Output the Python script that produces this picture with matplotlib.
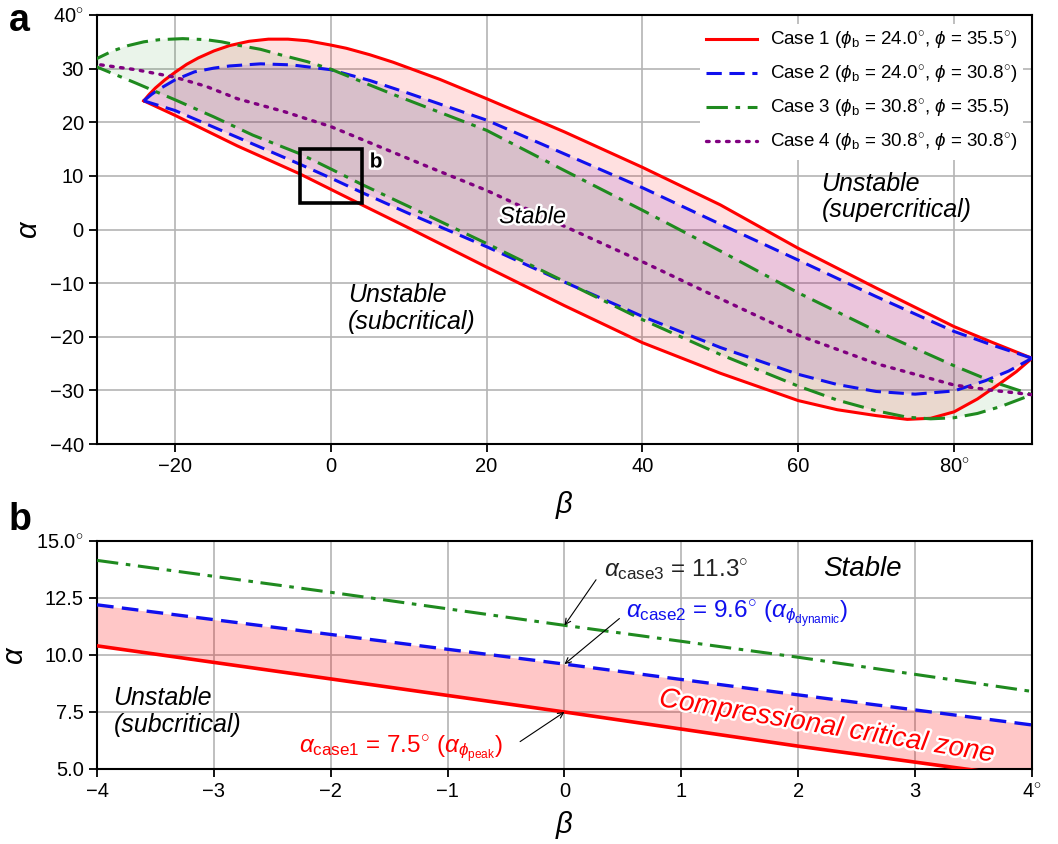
import numpy as np
import matplotlib
matplotlib.use("Agg")
import matplotlib.pyplot as plt
import matplotlib.patheffects as pe
from matplotlib.patches import Rectangle

plt.rcParams.update({
    "font.family": "Liberation Sans",
    "mathtext.fontset": "custom",
    "mathtext.rm": "Liberation Sans",
    "mathtext.it": "Liberation Sans:italic",
    "mathtext.bf": "Liberation Sans:bold",
    "axes.linewidth": 1.5,
    "xtick.major.width": 1.3,
    "ytick.major.width": 1.3,
    "xtick.major.size": 6,
    "ytick.major.size": 6,
    "xtick.labelsize": 14.5,
    "ytick.labelsize": 14.5,
})

RED, BLUE, GREEN, PURPLE = "#ff0000", "#1010ee", "#1f8a1f", "#800080"
HALO = [pe.withStroke(linewidth=3.5, foreground="white")]

# ─── PANEL a: critical taper envelopes ──────────────────────────────────────
# case 1: phi_b = 24.0, phi = 35.5
case1_up_beta  = [-24, -23.3, -22.5, -21.3, -20, -18.5, -17, -15, -13, -10.5, -8, -5.5, -3, 0,
                  2, 5, 8, 14, 20, 30, 40, 50, 60, 70, 80, 85, 90]
case1_up_alpha = [24, 25.2, 26.4, 27.9, 29.3, 30.8, 32.0, 33.3, 34.3, 35.1, 35.5, 35.5, 35.2, 34.4,
                  33.8, 32.6, 31.2, 28.0, 24.4, 18.2, 11.6, 4.6, -3.5, -10.9, -18.1, -21.1, -24]
case1_lo_beta  = [-24, -20, -12, -4, 0, 4, 10, 20, 30, 40, 50, 60, 65, 70, 74, 77, 80, 83, 86, 88, 90]
case1_lo_alpha = [24, 21.3, 15.6, 10.4, 7.5, 4.6, 0.3, -7.0, -14.2, -21.1, -26.8, -31.9, -33.6,
                  -34.7, -35.4, -35.2, -34.0, -31.6, -28.6, -26.5, -24]

# case 2: phi_b = 24.0, phi = 30.8
case2_up_beta  = [-24, -23, -22, -20, -17.5, -15, -13, -9, -5, 0, 5, 10, 20, 30, 40, 50, 60, 70,
                  80, 85, 90]
case2_up_alpha = [24, 25.2, 26.2, 27.9, 29.4, 30.1, 30.5, 30.9, 30.7, 29.8, 27.8, 25.4, 20.4, 14.1,
                  7.8, 1.0, -5.7, -12.5, -19.0, -21.6, -24]
case2_lo_beta  = [-24, -20, -12, -4, 0, 4, 10, 20, 30, 40, 50, 60, 65, 70, 75, 80, 84, 87, 90]
case2_lo_alpha = [24, 22.2, 17.2, 12.2, 9.6, 6.9, 3.0, -3.2, -9.8, -16.2, -22.0, -27.0, -28.9,
                  -30.2, -30.7, -30.1, -28.2, -26.4, -24]

# case 3: phi_b = 30.8, phi = 35.5
case3_up_beta  = [-30.8, -30, -28, -26, -24, -22, -19, -16, -14, -12, -9, -6.5, -3, 0, 8, 20, 30,
                  40, 50, 60, 70, 80, 85, 90]
case3_up_alpha = [30.8, 31.9, 33.3, 34.3, 35.0, 35.4, 35.6, 35.4, 35.0, 34.4, 33.6, 32.6, 31.3,
                  29.9, 25.2, 18.5, 11.0, 3.6, -4.0, -11.8, -18.9, -25.4, -28.4, -30.8]
case3_lo_beta  = [-30.8, -30, -25, -20, -15, -10, -4, 0, 4, 10, 20, 30, 40, 50, 60, 65, 70, 74, 77,
                  80, 83, 86, 90]
case3_lo_alpha = [30.8, 30.3, 27.3, 24.2, 21.0, 17.6, 14.15, 11.3, 8.4, 4.3, -2.6, -9.7, -16.8,
                  -23.3, -29.2, -31.8, -33.8, -35.0, -35.3, -35.1, -34.3, -33.0, -30.8]

# case 4: phi_b = phi = 30.8 (single curve)
case4_beta  = [-30.8, -30, -25, -20, -16, -12, -6, 0, 6, 12, 20, 30, 40, 50, 60, 70, 80, 85, 90]
case4_alpha = [31.0, 30.8, 29.8, 28.4, 26.7, 24.4, 22.0, 19.2, 15.6, 12.0, 7.3, 0.6, -6.0, -12.9,
               -19.7, -25.0, -29.0, -30.0, -30.8]

# ─── PANEL b: zoom around beta = 0 ─────────────────────────────────────────
b_beta  = [-4, -2, 0, 2, 4]
b_case1 = [10.4, 8.95, 7.5, 6.0, 4.6]
b_case2 = [12.2, 10.9, 9.6, 8.25, 6.93]
b_case3 = [14.15, 12.75, 11.3, 9.9, 8.4]

a_ticks_x = [-20, 0, 20, 40, 60, 80]
a_ticks_y = [-40, -30, -20, -10, 0, 10, 20, 30, 40]
b_ticks_x = [-4, -3, -2, -1, 0, 1, 2, 3, 4]
b_ticks_y = [5.0, 7.5, 10.0, 12.5, 15.0]


def loop(up_b, up_a, lo_b, lo_a):
    return list(up_b) + list(lo_b[::-1]), list(up_a) + list(lo_a[::-1])


def style_axes(ax):
    ax.set_axisbelow(True)
    ax.grid(True, color="#b4b4b4", linewidth=1.2)
    ax.tick_params(direction="out")


def deg_labels(values, fmt="{}"):
    labels = [fmt.format(v).replace("-", "\u2212") for v in values]
    labels[-1] = labels[-1] + r"$^{\circ}$"
    return labels


fig = plt.figure(figsize=(10.58, 8.44), dpi=100)
ax = fig.add_axes([0.0917, 0.4739, 0.8837, 0.5083])
axb = fig.add_axes([0.0917, 0.0889, 0.8837, 0.2701])

# ─── panel a ────────────────────────────────────────────────────────────────
style_axes(ax)
bx, ay = loop(case1_up_beta, case1_up_alpha, case1_lo_beta, case1_lo_alpha)
ax.fill(bx, ay, color=RED, alpha=0.12, lw=0, zorder=1)
bx, ay = loop(case2_up_beta, case2_up_alpha, case2_lo_beta, case2_lo_alpha)
ax.fill(bx, ay, color="#6a10c8", alpha=0.13, lw=0, zorder=1)
bx, ay = loop(case3_up_beta, case3_up_alpha, case3_lo_beta, case3_lo_alpha)
ax.fill(bx, ay, color=GREEN, alpha=0.09, lw=0, zorder=1)

DASH = (0, (5, 2.5))
DASHDOT = (0, (7, 2.5, 1.5, 2.5))
ax.plot(case1_up_beta, case1_up_alpha, color=RED, lw=2.2, zorder=3,
        label=r"Case 1 ($\phi_\mathrm{b}$ = 24.0$^{\circ}$, $\phi$ = 35.5$^{\circ}$)")
ax.plot(case1_lo_beta, case1_lo_alpha, color=RED, lw=2.2, zorder=3)
ax.plot(case2_up_beta, case2_up_alpha, color=BLUE, lw=2.2, ls=DASH, zorder=3,
        label=r"Case 2 ($\phi_\mathrm{b}$ = 24.0$^{\circ}$, $\phi$ = 30.8$^{\circ}$)")
ax.plot(case2_lo_beta, case2_lo_alpha, color=BLUE, lw=2.2, ls=DASH, zorder=3)
ax.plot(case3_up_beta, case3_up_alpha, color=GREEN, lw=2.2, ls=DASHDOT, zorder=3,
        label=r"Case 3 ($\phi_\mathrm{b}$ = 30.8$^{\circ}$, $\phi$ = 35.5)")
ax.plot(case3_lo_beta, case3_lo_alpha, color=GREEN, lw=2.2, ls=DASHDOT, zorder=3)
ax.plot(case4_beta, case4_alpha, color=PURPLE, lw=2.4, ls=(0, (0.8, 2.2)),
        dash_capstyle="round", zorder=3,
        label=r"Case 4 ($\phi_\mathrm{b}$ = 30.8$^{\circ}$, $\phi$ = 30.8$^{\circ}$)")

ax.add_patch(Rectangle((-4, 5), 8, 10, fill=False, ec="black", lw=2.6, zorder=5))
ax.text(5, 12.6, "b", fontsize=15, fontweight="bold", ha="left", va="center",
        path_effects=HALO, zorder=6)

ax.text(25.9, 2.4, "Stable", fontsize=17, style="italic", ha="center", va="center",
        path_effects=HALO, zorder=6)
ax.text(63.0, 10.8, "Unstable\n(supercritical)", fontsize=18, style="italic",
        ha="left", va="top", linespacing=1.15, zorder=6)
ax.text(2.2, -10.0, "Unstable\n(subcritical)", fontsize=18, style="italic",
        ha="left", va="top", linespacing=1.15, zorder=6)

ax.set_xlim(-30, 90)
ax.set_ylim(-40, 40)
ax.set_xticks(a_ticks_x)
ax.set_xticklabels(deg_labels(a_ticks_x))
ax.set_yticks(a_ticks_y)
ax.set_yticklabels(deg_labels(a_ticks_y))
ax.set_xlabel(r"$\beta$", fontsize=21, labelpad=9)
ax.set_ylabel(r"$\alpha$", fontsize=21, labelpad=5)

leg = ax.legend(loc="upper right", fontsize=13.5, handlelength=2.7, handletextpad=0.7,
                labelspacing=0.62, frameon=True, fancybox=False, framealpha=1,
                borderaxespad=0.5, borderpad=0.3)
leg.get_frame().set_edgecolor("none")
leg.set_zorder(7)

# ─── panel b ────────────────────────────────────────────────────────────────
style_axes(axb)
axb.fill_between(b_beta, b_case1, b_case2, color=RED, alpha=0.22, lw=0, zorder=1)
axb.plot(b_beta, b_case3, color=GREEN, lw=2.2, ls=DASHDOT, zorder=3)
axb.plot(b_beta, b_case2, color=BLUE, lw=2.4, ls=DASH, zorder=3)
axb.plot(b_beta, b_case1, color=RED, lw=2.6, zorder=3)

arrow = dict(arrowstyle="->", lw=0.8, color="black", shrinkA=0, shrinkB=0)
axb.annotate("", xy=(0, 11.3), xytext=(0.27, 13.3), arrowprops=arrow)
axb.annotate("", xy=(0, 9.6), xytext=(0.47, 11.6), arrowprops=arrow)
axb.annotate("", xy=(0, 7.5), xytext=(-0.38, 6.2), arrowprops=arrow)

axb.text(0.34, 13.75, r"$\alpha_\mathrm{case3}$ = 11.3$^{\circ}$", fontsize=17.5,
         color="#222222", ha="left", va="center")
axb.text(0.53, 11.8, r"$\alpha_\mathrm{case2}$ = 9.6$^{\circ}$ ($\alpha_{\phi_\mathrm{dynamic}}$)",
         fontsize=17.5, color=BLUE, ha="left", va="center")
axb.text(-2.27, 5.85, r"$\alpha_\mathrm{case1}$ = 7.5$^{\circ}$ ($\alpha_{\phi_\mathrm{peak}}$)",
         fontsize=17.5, color=RED, ha="left", va="center")
axb.text(2.55, 13.75, "Stable", fontsize=20, style="italic", ha="center", va="center")
axb.text(-3.86, 8.65, "Unstable\n(subcritical)", fontsize=18, style="italic",
         ha="left", va="top", linespacing=1.15)
axb.text(2.24, 6.85, "Compressional critical zone", fontsize=20, style="italic", color=RED,
         ha="center", va="center", rotation=-9.5, path_effects=HALO, zorder=6)

axb.set_xlim(-4, 4)
axb.set_ylim(5, 15)
axb.set_xticks(b_ticks_x)
axb.set_xticklabels(deg_labels(b_ticks_x))
axb.set_yticks(b_ticks_y)
axb.set_yticklabels(deg_labels(b_ticks_y, "{:.1f}"))
axb.set_xlabel(r"$\beta$", fontsize=21, labelpad=6)
axb.set_ylabel(r"$\alpha$", fontsize=21, labelpad=5)

fig.text(0.008, 0.997, "a", fontsize=27, fontweight="bold", ha="left", va="top")
fig.text(0.008, 0.405, "b", fontsize=27, fontweight="bold", ha="left", va="top")

fig.savefig("out.png", dpi=100)
plt.close(fig)
print("[PLOT] Saved -> out.png")
